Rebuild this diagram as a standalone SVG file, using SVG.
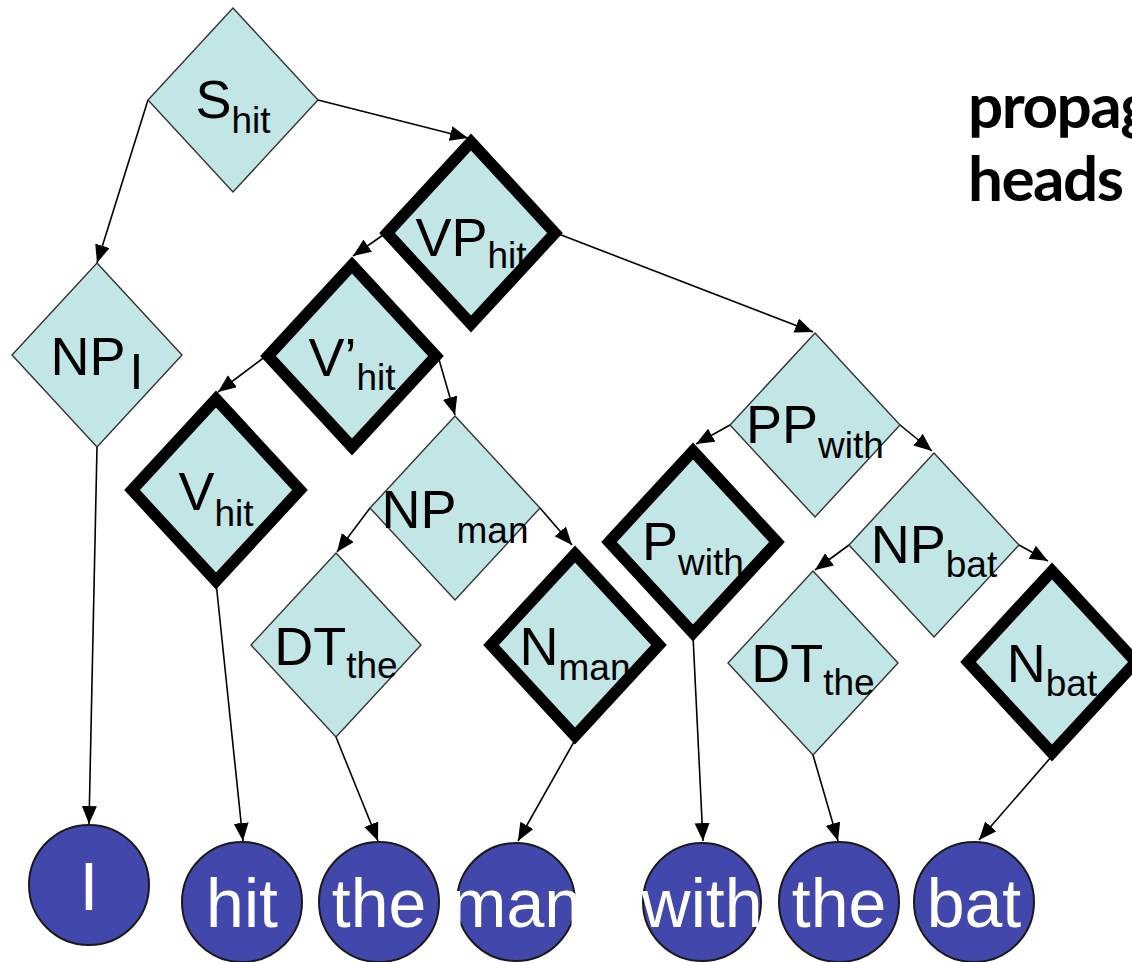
<svg xmlns="http://www.w3.org/2000/svg" width="1132" height="962" viewBox="0 0 1132 962">
  <defs>
    <style>
      .thin { fill: #c2e5e5; stroke: #333; stroke-width: 1.4; stroke-linejoin: miter; }
      .thick { fill: #c2e5e5; stroke: #000; stroke-width: 11.5; stroke-linejoin: miter; stroke-miterlimit: 10; }
      .lbl { font-family: "Liberation Sans", Arial, sans-serif; font-size: 54px; fill: #000; text-anchor: middle; }
      .sub { font-size: 37px; }
      .word { fill: #4248ab; stroke: #1a1a1a; stroke-width: 2; }
      .wtxt { font-family: "Liberation Sans", Arial, sans-serif; font-size: 68px; fill: #fff; text-anchor: middle; }
      .edge { stroke: #000; stroke-width: 1.6; fill: none; marker-end: url(#arr); }
      .note { font-family: Lato, "Open Sans", sans-serif; font-weight: bold; font-size: 62px; letter-spacing: -1.5px; fill: #000; }
    </style>
    <marker id="arr" markerUnits="userSpaceOnUse" markerWidth="20" markerHeight="16" refX="18" refY="7.5" orient="auto">
      <path d="M0,0 L18,7.5 L0,15 z" fill="#000"/>
    </marker>
    <path id="dia" d="M0,-92 L85,0 L0,92 L-85,0 Z"/>
    <path id="diaT" d="M0,-91 L84,0 L0,91 L-84,0 Z"/>
  </defs>

  <!-- side note -->
  <text class="note" x="968" y="128">propag</text>
  <text class="note" x="968" y="201">heads</text>

  <!-- connectors -->
  <g id="connectors">
    <line class="edge" x1="148" y1="100" x2="97" y2="263"/>
    <line class="edge" x1="318" y1="100" x2="468" y2="138"/>
    <line class="edge" x1="97" y1="447" x2="89" y2="824"/>
    <line class="edge" x1="386" y1="233" x2="353" y2="256"/>
    <line class="edge" x1="556" y1="233" x2="813" y2="332"/>
    <line class="edge" x1="266" y1="356" x2="218" y2="392"/>
    <line class="edge" x1="438" y1="356" x2="455" y2="415"/>
    <line class="edge" x1="216" y1="582" x2="243" y2="841"/>
    <line class="edge" x1="370" y1="508" x2="337" y2="552"/>
    <line class="edge" x1="540" y1="508" x2="572" y2="545"/>
    <line class="edge" x1="336" y1="737" x2="378" y2="841"/>
    <line class="edge" x1="575" y1="740" x2="518" y2="841"/>
    <line class="edge" x1="730" y1="425" x2="696" y2="444"/>
    <line class="edge" x1="900" y1="425" x2="932" y2="451"/>
    <line class="edge" x1="693" y1="636" x2="703" y2="841"/>
    <line class="edge" x1="849" y1="545" x2="815" y2="570"/>
    <line class="edge" x1="1019" y1="545" x2="1048" y2="561"/>
    <line class="edge" x1="813" y1="755" x2="838" y2="841"/>
    <line class="edge" x1="1052" y1="756" x2="979" y2="840"/>
  </g>

  <!-- phrase nodes -->
  <g id="S_hit" transform="translate(233,100)">
    <use href="#dia" class="thin"/>
    <text class="lbl" y="18">S<tspan class="sub" dy="15">hit</tspan></text>
  </g>
  <g id="NP_I" transform="translate(97,355)">
    <use href="#dia" class="thin"/>
    <text class="lbl" y="20">NP<tspan font-size="50" dx="4" dy="14">I</tspan></text>
  </g>
  <g id="VP_hit" transform="translate(471,233)">
    <use href="#diaT" class="thick"/>
    <text class="lbl" y="23">VP<tspan class="sub" dy="12">hit</tspan></text>
  </g>
  <g id="Vbar_hit" transform="translate(352,356)">
    <use href="#diaT" class="thick"/>
    <text class="lbl" y="20">V’<tspan class="sub" dy="14">hit</tspan></text>
  </g>
  <g id="V_hit" transform="translate(216,490)">
    <use href="#diaT" class="thick"/>
    <text class="lbl" y="20">V<tspan class="sub" dy="16">hit</tspan></text>
  </g>
  <g id="NP_man" transform="translate(455,508)">
    <use href="#dia" class="thin"/>
    <text class="lbl" y="20">NP<tspan class="sub" dy="15">man</tspan></text>
  </g>
  <g id="DT_the_1" transform="translate(336,645)">
    <use href="#dia" class="thin"/>
    <text class="lbl" y="20">DT<tspan class="sub" dy="13">the</tspan></text>
  </g>
  <g id="N_man" transform="translate(575,645)">
    <use href="#diaT" class="thick"/>
    <text class="lbl" y="20">N<tspan class="sub" dy="15">man</tspan></text>
  </g>
  <g id="PP_with" transform="translate(815,425)">
    <use href="#dia" class="thin"/>
    <text class="lbl" y="18">PP<tspan class="sub" dy="15">with</tspan></text>
  </g>
  <g id="P_with" transform="translate(693,542)">
    <use href="#diaT" class="thick"/>
    <text class="lbl" y="18">P<tspan class="sub" dy="15">with</tspan></text>
  </g>
  <g id="NP_bat" transform="translate(934,545)">
    <use href="#dia" class="thin"/>
    <text class="lbl" y="18">NP<tspan class="sub" dy="14">bat</tspan></text>
  </g>
  <g id="DT_the_2" transform="translate(813,663)">
    <use href="#dia" class="thin"/>
    <text class="lbl" y="19">DT<tspan class="sub" dy="13">the</tspan></text>
  </g>
  <g id="N_bat" transform="translate(1052,662)">
    <use href="#diaT" class="thick"/>
    <text class="lbl" y="20">N<tspan class="sub" dy="14">bat</tspan></text>
  </g>

  <!-- word nodes -->
  <g id="w_I"><circle class="word" cx="89" cy="885" r="60"/><text class="wtxt" x="89" y="910">I</text></g>
  <g id="w_hit"><circle class="word" cx="242" cy="902" r="60"/><text class="wtxt" x="242" y="927">hit</text></g>
  <g id="w_the_1"><circle class="word" cx="379" cy="902" r="60"/><text class="wtxt" x="379" y="927">the</text></g>
  <g id="w_man"><circle class="word" cx="516" cy="902" r="59"/><text class="wtxt" x="516" y="927">man</text></g>
  <g id="w_with"><circle class="word" cx="702" cy="902" r="59"/><text class="wtxt" x="702" y="927">with</text></g>
  <g id="w_the_2"><circle class="word" cx="839" cy="902" r="60"/><text class="wtxt" x="839" y="927">the</text></g>
  <g id="w_bat"><circle class="word" cx="974" cy="902" r="60"/><text class="wtxt" x="974" y="927">bat</text></g>
</svg>
